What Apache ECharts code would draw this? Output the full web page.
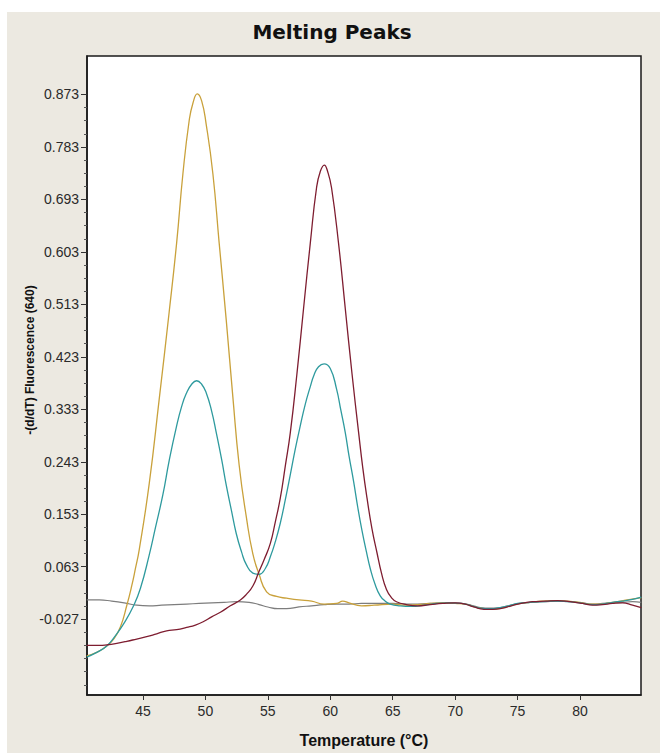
<!DOCTYPE html>
<html>
<head>
<meta charset="utf-8">
<script src="https://cdn.jsdelivr.net/npm/echarts@6/dist/echarts.min.js"></script>
<style>
  html, body { margin: 0; padding: 0; background: #ffffff; }
  #chart { width: 660px; height: 753px; }
</style>
</head>
<body>
<div id="chart"></div>
<script>
// ---- Data ----
const chartTitle = "Melting Peaks";
const xAxisName = "Temperature (°C)";
const yAxisName = "-(d/dT) Fluorescence (640)";
const xTickLabels = [45, 50, 55, 60, 65, 70, 75, 80];
const yTickLabels = [-0.027, 0.063, 0.153, 0.243, 0.333, 0.423, 0.513, 0.603, 0.693, 0.783, 0.873];

const grayT = [40.5, 41.5, 42.5, 43.5, 44.5, 45.5, 46.5, 47.5, 48.5, 49.5, 50.5, 51.5, 52.5, 53.5, 54.3, 55.0, 55.8, 56.5, 57.5, 58.5, 59.5, 60.5, 61.5, 62.5, 63.5, 65.0, 66.5, 68.0, 69.5, 70.5, 71.3, 72.0, 72.8, 73.6, 74.4, 75.2, 76.2, 77.2, 78.2, 79.2, 80.2, 81.0, 81.8, 82.6, 83.4, 84.2, 84.9];
const grayV = [0.006, 0.006, 0.004, 0.001, -0.003, -0.004, -0.003, -0.002, -0.001, 0.000, 0.001, 0.002, 0.003, 0.002, -0.002, -0.006, -0.009, -0.009, -0.006, -0.004, -0.002, -0.001, -0.001, 0.000, 0.000, 0.000, -0.001, 0.000, 0.001, 0.000, -0.003, -0.007, -0.008, -0.007, -0.003, 0.000, 0.002, 0.003, 0.004, 0.003, 0.001, -0.001, 0.000, 0.001, 0.002, 0.003, 0.002];

const goldT = [40.5, 41.3, 42.1, 42.7, 43.2, 43.7, 44.1, 44.4, 44.7, 45.5, 46.3, 47.1, 47.7, 48.2, 48.7, 49.0, 49.35, 49.7, 50.07, 50.6, 51.1, 51.67, 52.2, 52.7, 53.28, 53.8, 54.3, 54.9, 55.7, 56.5, 57.5, 58.5, 59.5, 60.5, 61.0, 61.5, 62.5, 63.5, 65.0, 66.0, 67.0, 68.0, 69.0, 70.0, 71.0, 71.6, 72.3, 73.0, 73.7, 74.4, 75.2, 76.0, 77.0, 78.0, 79.0, 80.0, 80.8, 81.6, 82.3, 83.0, 83.8, 84.9];
const goldV = [-0.090, -0.084, -0.073, -0.060, -0.040, -0.004, 0.030, 0.060, 0.092, 0.205, 0.350, 0.500, 0.619, 0.737, 0.828, 0.858, 0.874, 0.862, 0.821, 0.737, 0.619, 0.486, 0.354, 0.238, 0.148, 0.085, 0.050, 0.020, 0.012, 0.009, 0.006, 0.004, -0.001, 0.000, 0.004, 0.001, -0.004, -0.003, -0.001, -0.003, -0.002, 0.000, 0.001, 0.000, -0.002, -0.006, -0.009, -0.010, -0.008, -0.004, 0.000, 0.002, 0.004, 0.005, 0.004, 0.002, -0.001, -0.001, 0.001, 0.003, 0.006, 0.010];

const tealT = [40.5, 41.3, 42.1, 42.8, 43.45, 44.25, 44.8, 45.5, 46.0, 46.6, 47.1, 47.67, 48.1, 48.47, 48.9, 49.3, 49.7, 50.07, 50.5, 50.87, 51.3, 51.67, 52.1, 52.47, 52.9, 53.27, 53.8, 54.3, 54.8, 55.2, 55.6, 56.0, 56.4, 56.8, 57.2, 57.6, 58.0, 58.4, 58.7, 59.06, 59.5, 60.0, 60.5, 60.85, 61.2, 61.5, 61.87, 62.2, 62.54, 62.9, 63.2, 63.6, 64.0, 64.4, 64.8, 65.6, 66.5, 67.5, 68.5, 69.5, 70.5, 71.3, 72.0, 72.8, 73.6, 74.3, 75.0, 76.0, 77.0, 78.0, 79.0, 80.0, 81.0, 81.8, 82.6, 83.4, 84.2, 84.9];
const tealV = [-0.092, -0.084, -0.073, -0.055, -0.035, -0.004, 0.026, 0.083, 0.130, 0.187, 0.245, 0.302, 0.338, 0.360, 0.376, 0.382, 0.376, 0.361, 0.330, 0.293, 0.247, 0.203, 0.158, 0.120, 0.088, 0.067, 0.052, 0.050, 0.060, 0.080, 0.106, 0.138, 0.178, 0.221, 0.265, 0.305, 0.342, 0.372, 0.392, 0.406, 0.411, 0.403, 0.368, 0.331, 0.293, 0.253, 0.209, 0.165, 0.125, 0.088, 0.060, 0.032, 0.013, 0.004, -0.001, -0.004, -0.005, -0.003, 0.000, 0.001, 0.000, -0.004, -0.008, -0.009, -0.007, -0.004, 0.000, 0.002, 0.003, 0.004, 0.003, 0.001, -0.002, -0.001, 0.002, 0.004, 0.007, 0.011];

const maroonT = [40.5, 41.5, 42.1, 43.0, 43.7, 44.5, 45.3, 46.1, 46.9, 47.7, 48.5, 49.2, 49.86, 50.5, 51.2, 52.0, 52.8, 53.3, 53.8, 54.26, 54.7, 55.2, 55.6, 56.0, 56.4, 56.8, 57.33, 57.86, 58.4, 58.9, 59.2, 59.52, 59.8, 60.1, 60.66, 61.2, 61.74, 62.27, 62.6, 62.94, 63.34, 63.74, 64.1, 64.5, 64.9, 65.3, 66.1, 67.0, 68.0, 69.0, 70.0, 70.8, 71.5, 72.3, 73.0, 73.8, 74.5, 75.3, 76.2, 77.2, 78.2, 79.2, 80.2, 81.0, 81.8, 82.6, 83.4, 84.2, 84.9];
const maroonV = [-0.072, -0.072, -0.071, -0.068, -0.065, -0.061, -0.057, -0.052, -0.047, -0.045, -0.041, -0.037, -0.031, -0.023, -0.015, -0.004, 0.006, 0.016, 0.030, 0.053, 0.075, 0.103, 0.140, 0.181, 0.236, 0.293, 0.394, 0.506, 0.618, 0.713, 0.741, 0.752, 0.740, 0.713, 0.618, 0.506, 0.394, 0.293, 0.233, 0.181, 0.128, 0.087, 0.052, 0.024, 0.010, 0.003, -0.002, -0.004, -0.002, 0.000, 0.001, -0.001, -0.006, -0.010, -0.010, -0.008, -0.004, 0.000, 0.003, 0.004, 0.005, 0.003, 0.000, -0.003, -0.002, 0.000, 0.001, -0.003, -0.007];

// ---- Build options ----
const pairs = (t, v) => t.map((x, i) => [x, v[i]]);
const X_MIN = 40.52, X_MAX = 84.88;
const Y_MIN = -0.157, Y_MAX = 0.939;

const minorY = [];
for (let i = 0; i < yTickLabels.length - 1; i++) {
  for (let j = 1; j <= 3; j++) minorY.push(+(yTickLabels[i] + 0.0225 * j).toFixed(4));
}
for (let j = 1; j <= 5; j++) {
  const v = +(yTickLabels[0] - 0.0225 * j).toFixed(4);
  if (v > Y_MIN) minorY.push(v);
}

const labelFont = { fontFamily: 'Liberation Sans', fontSize: 14, color: '#2a2a2a' };
const lineCommon = { type: 'line', showSymbol: false, smooth: 0.5, clip: true };

const option = {
  animation: false,
  backgroundColor: '#ffffff',
  title: {
    text: chartTitle,
    left: 327,
    textAlign: 'center',
    top: 17,
    textStyle: { fontFamily: 'DejaVu Sans', fontWeight: 'bold', fontSize: 20, color: '#111' }
  },
  graphic: [
    { type: 'rect', z: -100, shape: { x: 7, y: 12, width: 653, height: 741 }, style: { fill: '#ECE9E1' }, silent: true },
    { type: 'text', z: 100, x: 30, y: 360, rotation: Math.PI / 2,
      style: { text: yAxisName, fontFamily: 'Liberation Sans', fontWeight: 'bold', fontSize: 12, fill: '#111', align: 'center', verticalAlign: 'middle' } }
  ],
  grid: {
    left: 87, top: 56, width: 554, height: 652,
    show: true, backgroundColor: '#ffffff', borderColor: '#1a1a1a', borderWidth: 1.5
  },
  xAxis: {
    type: 'value', min: X_MIN, max: X_MAX,
    name: xAxisName, nameLocation: 'middle', nameGap: 37,
    nameTextStyle: { fontFamily: 'Liberation Sans', fontWeight: 'bold', fontSize: 16, color: '#111' },
    axisLine: { show: true, onZero: false, lineStyle: { color: '#1a1a1a', width: 1.5 } },
    axisTick: { show: true, length: 5, customValues: xTickLabels, lineStyle: { color: '#333' } },
    axisLabel: { margin: 9, customValues: xTickLabels, ...labelFont },
    splitLine: { show: false }
  },
  yAxis: [
    {
      type: 'value', min: Y_MIN, max: Y_MAX,
      axisLine: { show: true, onZero: false, lineStyle: { color: '#1a1a1a', width: 1.5 } },
      axisTick: { show: true, length: 6, customValues: yTickLabels, lineStyle: { color: '#333' } },
      axisLabel: { margin: 8, customValues: yTickLabels, formatter: v => Number(v).toFixed(3), ...labelFont },
      splitLine: { show: false }
    },
    {
      type: 'value', min: Y_MIN, max: Y_MAX, position: 'left',
      axisLine: { show: false, onZero: false },
      axisTick: { show: true, length: 3, customValues: minorY, lineStyle: { color: '#555' } },
      axisLabel: { show: false },
      splitLine: { show: false }
    }
  ],
  series: [
    { ...lineCommon, name: 'gray', data: pairs(grayT, grayV), lineStyle: { color: '#7d7d7d', width: 1.2 } },
    { ...lineCommon, name: 'gold', data: pairs(goldT, goldV), lineStyle: { color: '#C9A13B', width: 1.3 } },
    { ...lineCommon, name: 'teal', data: pairs(tealT, tealV), lineStyle: { color: '#2E9A9E', width: 1.3 } },
    { ...lineCommon, name: 'maroon', data: pairs(maroonT, maroonV), lineStyle: { color: '#7E1D30', width: 1.3 } }
  ]
};

const chart = echarts.init(document.getElementById('chart'), null, { renderer: 'svg' });
chart.setOption(option);
</script>
</body>
</html>
